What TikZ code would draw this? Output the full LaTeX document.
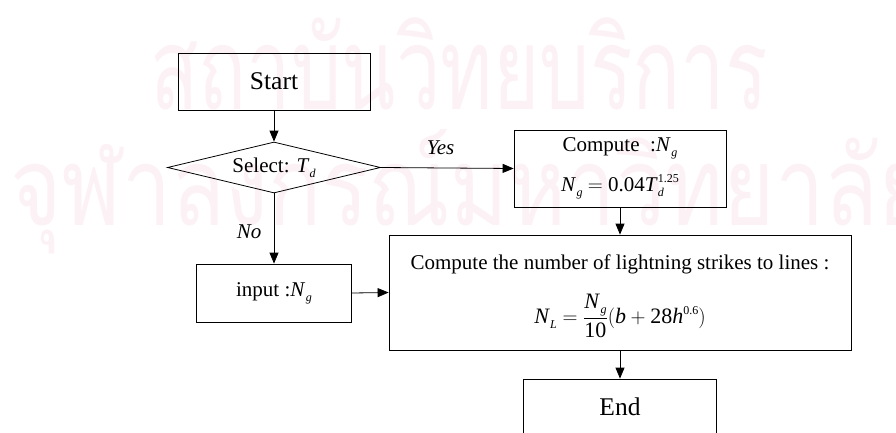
\documentclass[tikz,border=0pt]{standalone}
\usepackage{fontspec}
\setmainfont{Liberation Serif}
\newfontfamily\thaifont[Script=Thai]{Loma}
\usetikzlibrary{shapes.geometric,arrows.meta}

% small lowered / raised indices set in the text font
\newcommand\lo[1]{\raisebox{-0.55ex}{\fontsize{12}{12}\selectfont\itshape #1}}
\newcommand\hi[1]{\raisebox{0.9ex}{\fontsize{12}{12}\selectfont #1}}
\newcommand\Ng{\textit{N}\kern0.5pt\lo{g}}

\definecolor{wmark}{rgb}{0.99,0.95,0.965}

\begin{document}
\begin{tikzpicture}[x=1pt,y=-1pt,
  box/.style={draw, line width=0.8pt, inner sep=0pt, align=center,
    font=\fontsize{21}{26}\selectfont},
  bigbox/.style={box, font=\fontsize{25.5}{30}\selectfont},
  decision/.style={diamond, draw, line width=0.8pt, inner sep=0pt, aspect=4.2,
    font=\fontsize{21}{26}\selectfont},
  flow/.style={-{Triangle[length=11pt,width=9pt]}, line width=0.8pt},
  branch/.style={font=\fontsize{21}{26}\selectfont\itshape},
  watermark/.style={inner sep=0pt, anchor=base west, text=wmark,
    font=\fontsize{100}{100}\thaifont}]
\useasboundingbox (0,0) rectangle (896,433);

% background watermark
\node[watermark] (wm1) at (150,110) {\resizebox{618pt}{92pt}{สถาบันวิทยบริการ}};
\node[watermark] (wm2) at (10,225) {\resizebox{920pt}{96pt}{จุฬาลงกรณ์มหาวิทยาลัย}};

% flowchart blocks
\node[bigbox, minimum width=192pt, minimum height=57pt] (start) at (274,81.5) {Start};
\node[decision, minimum width=213pt, minimum height=51pt] (sel) at (274,167.5)
  {Select: \textit{T}\lo{d}};
\node[box, minimum width=212pt, minimum height=77pt,
  font=\fontsize{21}{40}\selectfont] (comp) at (620,168.5)
  {Compute\ \ :\Ng\\ \Ng\ $=$ 0.04\textit{T}\rlap{\lo{d}}\hi{1.25}};
\node[box, minimum width=155pt, minimum height=58pt] (inp) at (274,293)
  {input\ :\Ng};
\node[box, minimum width=462pt, minimum height=115pt] (calc) at (620,292.5)
  {\rule{0pt}{22pt}Compute the number of lightning strikes to lines :\\[19pt]
   \fontsize{22}{26}\selectfont
   $\displaystyle \hbox{\textit{N}\lo{L}} = \frac{\hbox{\Ng}}{\hbox{10}}
   (\hbox{\textit{b}} + \hbox{28\textit{h}\hi{0.6}})$};
\node[bigbox, minimum width=193pt, minimum height=56pt] (end) at (620,407) {End};

% connectors
\draw[flow] (start.south) -- (sel.north);
\draw[flow] (sel.east) -- node[branch, above, pos=0.45, yshift=10pt] (yes) {Yes} (comp.west);
\draw[flow] (sel.south) -- node[branch, left, pos=0.55, xshift=-9pt] (no) {No} (inp.north);
\draw[flow] (inp.east) -- (calc.west);
\draw[flow] (comp.south) -- (calc.north);
\draw[flow] (calc.south) -- (end.north);
\end{tikzpicture}
\end{document}
